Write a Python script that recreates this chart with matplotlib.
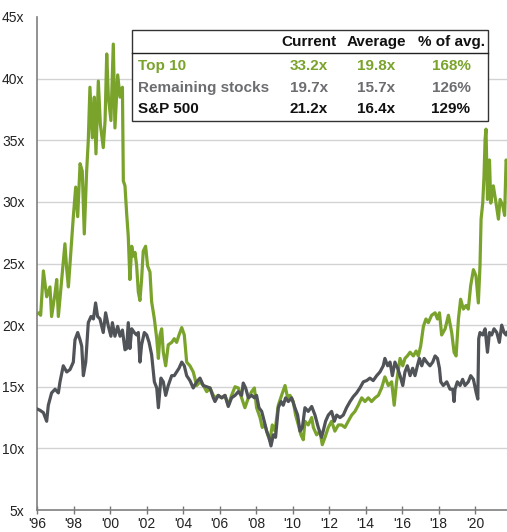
import matplotlib
matplotlib.use("Agg")
import matplotlib.pyplot as plt
from matplotlib.patches import Rectangle

plt.rcParams['font.family'] = ['Liberation Sans', 'DejaVu Sans']

# forward P/E (year, multiple)
top10_years = [1996.0, 1996.1, 1996.2, 1996.35, 1996.53, 1996.71, 1996.8, 1996.99, 1997.08, 1997.17,
               1997.35, 1997.53, 1997.63, 1997.72, 1997.81, 1997.99, 1998.12, 1998.23, 1998.36, 1998.48,
               1998.59, 1998.72, 1998.81, 1998.9, 1999.03, 1999.14, 1999.23, 1999.36, 1999.47, 1999.63,
               1999.73, 1999.82, 1999.91, 2000.05, 2000.18, 2000.27, 2000.42, 2000.55, 2000.68, 2000.73,
               2000.82, 2000.91, 2001.0, 2001.09, 2001.19, 2001.28, 2001.37, 2001.46, 2001.55, 2001.64,
               2001.73, 2001.82, 2001.95, 2002.06, 2002.19, 2002.28, 2002.43, 2002.56, 2002.65, 2002.74,
               2002.83, 2002.92, 2003.05, 2003.19, 2003.38, 2003.52, 2003.65, 2003.78, 2003.93, 2004.07,
               2004.2, 2004.38, 2004.56, 2004.75, 2004.93, 2005.11, 2005.3, 2005.48, 2005.66,
               2005.75, 2005.93, 2006.12, 2006.3, 2006.48, 2006.66, 2006.85, 2007.03, 2007.21, 2007.39,
               2007.58, 2007.76, 2007.91, 2008.03, 2008.22, 2008.34, 2008.49, 2008.64, 2008.76, 2008.89,
               2009.04, 2009.22, 2009.4, 2009.59, 2009.73, 2009.86, 2010.04, 2010.17, 2010.32, 2010.46,
               2010.59, 2010.68, 2010.86, 2011.05, 2011.14, 2011.32, 2011.5, 2011.63, 2011.78, 2011.96,
               2012.14, 2012.32, 2012.51, 2012.69, 2012.87, 2013.05, 2013.24, 2013.42, 2013.6, 2013.79,
               2013.97, 2014.15, 2014.33, 2014.52, 2014.7, 2014.88, 2015.06, 2015.25, 2015.43, 2015.57,
               2015.7, 2015.89, 2016.04, 2016.16, 2016.29, 2016.44, 2016.62, 2016.77, 2016.89, 2017.02,
               2017.17, 2017.31, 2017.44, 2017.62, 2017.81, 2017.94, 2018.05, 2018.17, 2018.36, 2018.54,
               2018.72, 2018.85, 2018.96, 2019.09, 2019.21, 2019.36, 2019.51, 2019.63, 2019.76, 2019.91,
               2020.05, 2020.18, 2020.27, 2020.33, 2020.42, 2020.49, 2020.55, 2020.6, 2020.68, 2020.79,
               2020.86, 2021.0, 2021.15, 2021.28, 2021.37, 2021.52, 2021.62, 2021.7, 2021.75]
top10_pe = [20.9, 21.0, 20.8, 24.4, 22.3, 23.1, 20.7, 22.6, 23.7, 20.7,
            23.7, 26.6, 24.5, 23.1, 25.0, 28.8, 31.2, 28.8, 33.1, 32.5,
            27.4, 32.5, 35.0, 39.3, 35.2, 38.5, 33.9, 39.8, 36.3, 34.4,
            36.6, 42.0, 38.5, 36.6, 42.8, 36.0, 40.3, 38.5, 39.3, 31.7,
            31.3, 29.1, 27.2, 23.7, 26.4, 25.6, 25.9, 24.8, 22.7, 22.0,
            23.7, 26.0, 26.4, 24.8, 24.3, 21.9, 20.5, 18.9, 17.3, 19.2,
            19.7, 17.8, 16.7, 18.4, 18.6, 18.9, 18.6, 19.2, 19.8, 19.2,
            17.0, 16.7, 16.2, 15.1, 15.4, 15.1, 14.6, 14.9, 14.3,
            14.1, 14.3, 14.1, 14.3, 13.5, 14.3, 15.0, 14.9, 14.1, 13.3,
            14.1, 14.6, 14.9, 13.3, 12.5, 11.7, 11.9, 11.1, 10.6, 11.9,
            11.4, 13.5, 14.3, 15.1, 14.1, 14.3, 13.8, 12.7, 11.9, 11.1,
            10.7, 12.2, 11.9, 12.5, 11.7, 11.1, 11.4, 10.3, 10.9, 11.7,
            12.2, 11.4, 11.9, 11.9, 11.7, 12.2, 12.7, 13.0, 13.5, 14.1,
            13.8, 14.1, 13.8, 14.1, 14.3, 14.9, 15.8, 15.1, 15.4, 13.5,
            15.4, 17.3, 16.7, 17.3, 17.5, 17.8, 17.5, 17.9, 17.5, 18.3,
            19.9, 20.5, 20.2, 20.8, 21.0, 20.5, 21.0, 19.2, 19.7, 20.8,
            19.4, 17.8, 17.5, 20.5, 22.1, 21.3, 21.6, 21.3, 23.2, 24.5,
            24.0, 21.8, 24.8, 28.6, 29.9, 32.1, 35.1, 35.9, 30.2, 33.4,
            29.9, 31.3, 29.9, 28.6, 30.2, 29.7, 28.9, 33.4, 33.2]

rest_years = [1996.0, 1996.15, 1996.35, 1996.53, 1996.62, 1996.8, 1996.99, 1997.17, 1997.26, 1997.44,
              1997.63, 1997.81, 1997.99, 1998.08, 1998.23, 1998.36, 1998.45, 1998.54, 1998.67, 1998.81,
              1998.96, 1999.09, 1999.21, 1999.32, 1999.45, 1999.63, 1999.76, 1999.91, 2000.05, 2000.13,
              2000.27, 2000.42, 2000.55, 2000.68,
              2000.82, 2000.91, 2001.0, 2001.09, 2001.19, 2001.33, 2001.46, 2001.55, 2001.64, 2001.73,
              2001.88, 2002.01, 2002.14, 2002.28, 2002.43, 2002.56, 2002.65, 2002.79, 2002.92, 2003.05,
              2003.19, 2003.38, 2003.52, 2003.65, 2003.78, 2003.93, 2004.07, 2004.2, 2004.38, 2004.56,
              2004.75, 2004.93, 2005.11, 2005.3, 2005.48, 2005.66,
              2005.75, 2005.93, 2006.12, 2006.3, 2006.48, 2006.66, 2006.85, 2007.03, 2007.21, 2007.3,
              2007.43, 2007.58, 2007.76, 2007.91, 2008.03, 2008.16, 2008.31, 2008.45, 2008.58, 2008.71,
              2008.82, 2008.95, 2009.07, 2009.22, 2009.37, 2009.49, 2009.62, 2009.77, 2009.95, 2010.13,
              2010.28, 2010.41, 2010.54,
              2010.68, 2010.86, 2011.05, 2011.23, 2011.41, 2011.59, 2011.68, 2011.81, 2011.96, 2012.14,
              2012.29, 2012.42, 2012.6, 2012.78, 2012.96, 2013.15, 2013.33, 2013.51, 2013.69, 2013.88,
              2014.06, 2014.24, 2014.42, 2014.61, 2014.79, 2014.97, 2015.06, 2015.21, 2015.34, 2015.47,
              2015.61, 2015.76,
              2015.89, 2016.04, 2016.16, 2016.29, 2016.44, 2016.58, 2016.71, 2016.84, 2016.95, 2017.08,
              2017.21, 2017.35, 2017.53, 2017.68, 2017.81, 2017.94, 2018.05, 2018.12, 2018.26, 2018.45,
              2018.63, 2018.78, 2018.85, 2018.9, 2019.03, 2019.18, 2019.32, 2019.45, 2019.63, 2019.76,
              2019.91, 2020.05, 2020.15, 2020.2, 2020.27, 2020.42, 2020.55, 2020.68, 2020.79, 2020.91,
              2021.04, 2021.19, 2021.33, 2021.46, 2021.59, 2021.7, 2021.75]
rest_pe = [13.2, 13.1, 12.9, 12.2, 13.5, 14.5, 14.8, 14.5, 15.4, 16.7,
           16.2, 16.4, 17.0, 18.8, 19.4, 18.8, 18.3, 15.9, 17.0, 20.2,
           20.7, 20.5, 21.8, 20.7, 20.5, 19.4, 21.0, 19.9, 19.1, 20.2,
           19.1, 19.9, 19.1, 19.6,
           18.0, 18.1, 20.2, 18.1, 19.7, 19.4, 19.2, 19.4, 17.0, 18.4,
           19.4, 19.2, 18.6, 17.6, 15.4, 14.9, 13.3, 15.7, 15.4, 14.3,
           15.1, 15.9, 15.9, 16.2, 16.5, 17.0, 16.7, 15.9, 15.5, 14.9,
           15.4, 15.7, 15.1, 15.0, 14.9, 14.1,
           13.8, 14.3, 14.1, 14.3, 13.4, 14.1, 14.3, 14.6, 14.3, 15.3,
           14.9, 14.1, 14.3, 14.1, 14.3, 13.3, 13.0, 12.2, 11.4, 10.9,
           10.2, 11.1, 10.9, 13.3, 13.8, 13.5, 14.1, 13.8, 14.1, 13.3,
           12.7, 11.4, 11.7,
           13.3, 13.0, 13.4, 12.7, 11.7, 10.9, 11.4, 12.2, 12.7, 13.0,
           12.2, 12.7, 12.5, 12.7, 13.3, 13.8, 14.2, 14.5, 14.9, 15.4,
           15.5, 15.7, 15.5, 15.9, 16.2, 16.7, 17.3, 16.7, 17.0, 15.9,
           17.0, 16.5,
           15.9, 15.1, 16.2, 16.7, 15.9, 16.5, 15.9, 16.7, 17.3, 16.7,
           17.3, 17.0, 16.7, 17.0, 17.5, 17.3, 16.5, 15.4, 15.1, 15.4,
           14.8, 14.8, 13.8, 14.8, 15.4, 15.1, 15.6, 15.1, 15.4, 15.9,
           15.6, 14.6, 14.0, 18.9, 19.4, 19.2, 19.7, 17.8, 19.4, 19.2,
           19.7, 19.4, 18.6, 20.0, 19.4, 19.2, 19.4]

x_ticks = [1996, 1998, 2000, 2002, 2004, 2006, 2008, 2010, 2012, 2014, 2016, 2018, 2020]
x_labels = ["'96", "'98", "'00", "'02", "'04", "'06", "'08", "'10", "'12", "'14", "'16", "'18", "'20"]
y_ticks = [5, 10, 15, 20, 25, 30, 35, 40, 45]

# table
row_names = ['Top 10', 'Remaining stocks', 'S&P 500']
col_names = ['Current', 'Average', '% of avg.']
current = ['33.2x', '19.7x', '21.2x']
average = ['19.8x', '15.7x', '16.4x']
pct_avg = ['168%', '126%', '129%']

green = '#7aa32b'
gray = '#505357'
text_gray = '#6c6d70'

W, H = 507, 532
fig = plt.figure(figsize=(W / 100, H / 100), dpi=100)
ax = fig.add_axes([37 / W, 1 - 510 / H, (507 - 37) / W, (510 - 17) / H])

ax.plot(rest_years, rest_pe, color=gray, lw=2.3, solid_joinstyle='round', zorder=3)
ax.plot(top10_years, top10_pe, color=green, lw=2.3, solid_joinstyle='round', zorder=2)

ax.set_xlim(1996, 2021.75)
ax.set_ylim(5, 45)
ax.set_xticks(x_ticks)
ax.set_xticklabels(x_labels)
ax.set_yticks(y_ticks)
ax.set_yticklabels([f'{v}x' for v in y_ticks])
ax.tick_params(axis='y', length=0, pad=9, labelsize=10, labelcolor='#222222')
ax.tick_params(axis='x', direction='inout', length=6, width=1, color='#777777',
               pad=2, labelsize=10, labelcolor='#222222')

ax.yaxis.grid(True, color='#d3d3d3', lw=1)
ax.set_axisbelow(True)
gl = ax.get_ygridlines()
gl[0].set_visible(False)
gl[-1].set_visible(False)

for s in ['top', 'right']:
    ax.spines[s].set_visible(False)
for s in ['left', 'bottom']:
    ax.spines[s].set_color('#7f7f7f')
    ax.spines[s].set_linewidth(1.2)


def fx(px):
    return px / W


def fy(py):
    return 1 - py / H


# table box
box = Rectangle((fx(132), fy(121)), fx(488) - fx(132), fy(30) - fy(121), transform=fig.transFigure,
                facecolor='white', edgecolor='#333333', lw=1.0, zorder=10)
fig.patches.append(box)
fig.add_artist(plt.Line2D([fx(132), fx(488)], [fy(53), fy(53)], color='#222222', lw=1.0, zorder=11))

col_x = [309, 376, 451]
for cx, name in zip(col_x, col_names):
    fig.text(fx(cx), fy(42), name, ha='center', va='center', fontsize=11, fontweight='bold',
             color='#111111', zorder=12)

row_y = [66, 88, 109]
row_colors = [green, text_gray, '#111111']
for i in range(3):
    fig.text(fx(138), fy(row_y[i]), row_names[i], ha='left', va='center', fontsize=11,
             fontweight='bold', color=row_colors[i], zorder=12)
    for cx, val in zip(col_x, [current[i], average[i], pct_avg[i]]):
        fig.text(fx(cx), fy(row_y[i]), val, ha='center', va='center', fontsize=11,
                 fontweight='bold', color=row_colors[i], zorder=12)

fig.savefig('out.png', dpi=100)
